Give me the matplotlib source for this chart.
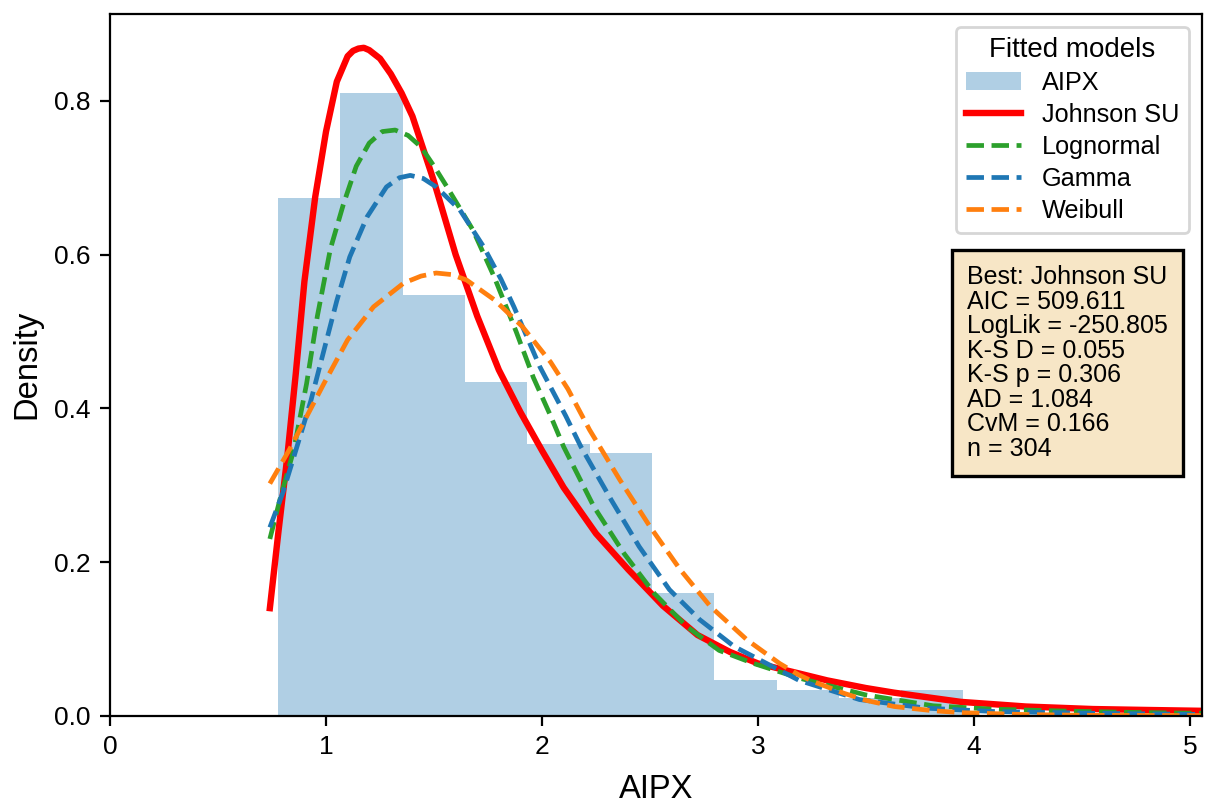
import matplotlib
matplotlib.use("Agg")
import matplotlib.pyplot as plt
import numpy as np

plt.rcParams['font.family'] = ['Liberation Sans', 'DejaVu Sans']

# histogram of AIPX (density scale), bin edges + heights
bin_edges = [0.779, 1.067, 1.356, 1.644, 1.932, 2.221, 2.509, 2.797, 3.086, 3.374, 3.662, 3.950]
bin_density = [0.673, 0.810, 0.548, 0.434, 0.354, 0.342, 0.160, 0.046, 0.034, 0.023, 0.034]

# fitted pdfs, points
jsu_x = [0.74, 0.78, 0.82, 0.86, 0.90, 0.95, 1.00, 1.05, 1.10, 1.125, 1.15, 1.175, 1.20, 1.25,
         1.30, 1.35, 1.40, 1.50, 1.60, 1.70, 1.80, 1.90, 2.00, 2.10, 2.25, 2.40, 2.56, 2.72,
         2.87, 3.00, 3.19, 3.32, 3.50, 3.63, 3.81, 3.94, 4.24, 4.55, 4.80, 5.10]
jsu_y = [0.140, 0.240, 0.335, 0.445, 0.565, 0.675, 0.760, 0.825, 0.858, 0.865, 0.868, 0.869,
         0.866, 0.855, 0.835, 0.810, 0.780, 0.695, 0.600, 0.520, 0.450, 0.395, 0.345, 0.297,
         0.237, 0.190, 0.143, 0.105, 0.083, 0.068, 0.055, 0.046, 0.036, 0.030, 0.023, 0.018,
         0.012, 0.0087, 0.0075, 0.0062]

lognorm_x = [0.74, 0.79, 0.85, 0.91, 0.96, 1.02, 1.08, 1.14, 1.20, 1.26, 1.32, 1.38, 1.44,
             1.50, 1.56, 1.62, 1.68, 1.78, 1.88, 1.96, 2.04, 2.10, 2.24, 2.38, 2.52, 2.67,
             2.82, 2.98, 3.19, 3.50, 3.81, 4.09, 4.40, 4.70, 5.10]
lognorm_y = [0.230, 0.285, 0.345, 0.432, 0.520, 0.607, 0.665, 0.715, 0.745, 0.760, 0.762,
             0.755, 0.740, 0.715, 0.688, 0.660, 0.632, 0.570, 0.500, 0.440, 0.390, 0.350,
             0.272, 0.211, 0.159, 0.116, 0.085, 0.068, 0.049, 0.027, 0.013, 0.0085, 0.0062,
             0.0045, 0.003]

gamma_x = [0.74, 0.80, 0.86, 0.93, 0.99, 1.05, 1.11, 1.19, 1.28, 1.34, 1.39, 1.45, 1.51,
           1.62, 1.73, 1.81, 1.87, 1.99, 2.11, 2.18, 2.32, 2.45, 2.59, 2.73, 2.89, 3.04,
           3.19, 3.47, 3.78, 4.09, 4.55, 5.10]
gamma_y = [0.245, 0.290, 0.345, 0.410, 0.475, 0.540, 0.597, 0.649, 0.688, 0.700, 0.703,
           0.699, 0.688, 0.658, 0.610, 0.568, 0.532, 0.454, 0.390, 0.350, 0.281, 0.220,
           0.164, 0.125, 0.090, 0.068, 0.046, 0.021, 0.0098, 0.0055, 0.0032, 0.0015]

weib_x = [0.74, 0.83, 0.91, 0.99, 1.10, 1.22, 1.36, 1.44, 1.51, 1.58, 1.65, 1.78, 1.91,
          2.04, 2.12, 2.22, 2.36, 2.50, 2.64, 2.78, 2.95, 3.10, 3.19, 3.26, 3.40, 3.50,
          3.63, 3.81, 3.94, 4.24, 4.55, 5.10]
weib_y = [0.302, 0.346, 0.389, 0.432, 0.489, 0.532, 0.563, 0.572, 0.576, 0.574, 0.567,
          0.541, 0.506, 0.460, 0.425, 0.372, 0.307, 0.246, 0.190, 0.142, 0.0985, 0.068,
          0.053, 0.044, 0.029, 0.020, 0.012, 0.0065, 0.004, 0.0015, 0.0005, 0.0001]

stats_lines = ["Best: Johnson SU", "AIC = 509.611", "LogLik = -250.805", "K-S D = 0.055",
               "K-S p = 0.306", "AD = 1.084", "CvM = 0.166", "n = 304"]

fig = plt.figure(figsize=(6.085, 4.04), dpi=200)
ax = fig.add_axes([0.0904, 0.1142, 0.8970, 0.8685])

edges = np.array(bin_edges)
bars = ax.bar(edges[:-1], bin_density, width=np.diff(edges), align='edge',
              color='tab:blue', alpha=0.35, linewidth=0, label='AIPX')

l1, = ax.plot(jsu_x, jsu_y, color='red', lw=2.3, label='Johnson SU')
l2, = ax.plot(lognorm_x, lognorm_y, '--', color='tab:green', lw=1.7, label='Lognormal')
l3, = ax.plot(gamma_x, gamma_y, '--', color='tab:blue', lw=1.7, label='Gamma')
l4, = ax.plot(weib_x, weib_y, '--', color='tab:orange', lw=1.7, label='Weibull')

ax.set_xlim(0, 5.054)
ax.set_ylim(0, 0.913)
ax.set_xticks([0, 1, 2, 3, 4, 5])
ax.set_yticks([0.0, 0.2, 0.4, 0.6, 0.8])
ax.set_yticklabels(['0.0', '0.2', '0.4', '0.6', '0.8'])
ax.tick_params(labelsize=9.5)
ax.set_xlabel('AIPX', fontsize=11.8, labelpad=5.5)
ax.set_ylabel('Density', fontsize=11.8)

ax.legend([bars, l1, l2, l3, l4], ['AIPX', 'Johnson SU', 'Lognormal', 'Gamma', 'Weibull'],
          title='Fitted models', loc='upper right', fontsize=9.1, title_fontsize=10,
          labelspacing=0.32, handlelength=2.2)

ax.text(0.785, 0.6423, "\n".join(stats_lines), transform=ax.transAxes,
        va='top', ha='left', fontsize=9, linespacing=1.03,
        bbox=dict(boxstyle='square,pad=0.6', facecolor=(0.96, 0.87, 0.70, 0.75),
                  edgecolor='black', linewidth=1.2))

fig.savefig('out.png', dpi=200)
